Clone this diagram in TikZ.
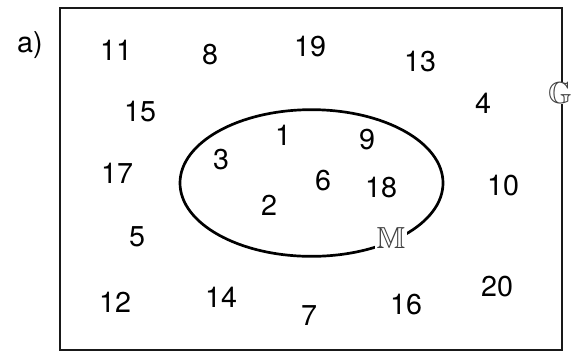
\documentclass[tikz,border=0pt]{standalone}
\usepackage{amssymb}
\usepackage{fontspec}
\setmainfont{TeX Gyre Heros}
\usepackage{tikz}
\usetikzlibrary{positioning,shapes.geometric}

\begin{document}
\begin{tikzpicture}[
  x=0.03cm, y=-0.03cm,
  element/.style={
    inner sep=0pt,
    font=\fontsize{24.5}{28}\selectfont
  },
  setname/.style={
    fill=white,
    inner sep=1pt,
    text=black!75,
    font=\fontsize{26}{30}\selectfont
  },
  universe/.style={draw=black!90, line width=2.2pt},
  subset/.style={draw=black, line width=2.3pt}
]
\useasboundingbox (0,0) rectangle (571,354);

% Universal set and subset
\node[universe, minimum width=15.06cm, minimum height=10.26cm, inner sep=0pt] (frame) at (311,179) {};
\node[subset, ellipse, minimum width=7.89cm, minimum height=4.4cm, inner sep=0pt] (setM) at (311.5,183) {};
\node[setname, inner sep=0.5pt] (labelG) at (560,93) {$\mathbb{G}$};
\node[setname] (labelM) at (391,238) {$\mathbb{M}$};

% Part label
\node[element] (part) at (30,45) {a)};

% Elements outside M
\node[element] (e11) at (116,50) {11};
\node[element] (e8) at (210,55) {8};
\node[element] (e19) at (310,47) {19};
\node[element] (e13) at (420,62) {13};
\node[element] (e15) at (140,112) {15};
\node[element] (e4) at (483,103) {4};
\node[element] (e17) at (117,173) {17};
\node[element] (e10) at (503,186) {10};
\node[element] (e5) at (137,237) {5};
\node[element] (e12) at (115,302) {12};
\node[element] (e14) at (221,297) {14};
\node[element] (e7) at (309,316) {7};
\node[element] (e16) at (406,305) {16};
\node[element] (e20) at (497,287) {20};

% Elements inside M
\node[element] (e1) at (283,135) {1};
\node[element] (e9) at (367,140) {9};
\node[element] (e3) at (221,160) {3};
\node[element] (e6) at (323,181) {6};
\node[element] (e18) at (381,188) {18};
\node[element] (e2) at (269,205) {2};
\end{tikzpicture}
\end{document}
